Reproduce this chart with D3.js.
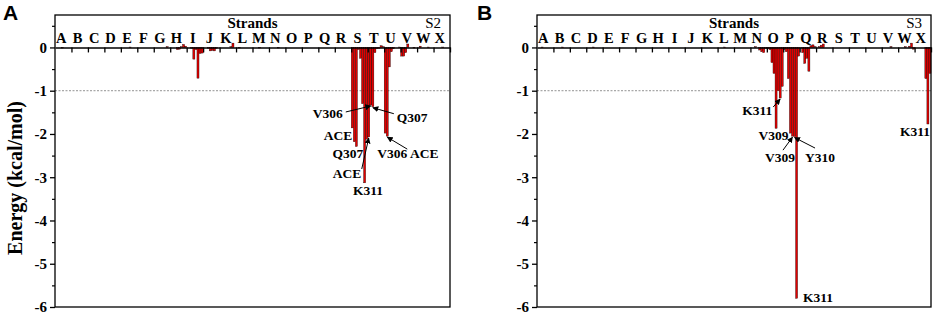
<!DOCTYPE html>
<html>
<head>
<meta charset="utf-8">
<script src="https://cdn.jsdelivr.net/npm/d3@7"></script>
<style>
  body { margin: 0; background: #fff; }
  svg { display: block; }
</style>
</head>
<body>
<script>
// ---- data ----
var strands = "ABCDEFGHIJKLMNOPQRSTUVWX".split("");
var residues = ["ACE", "V306", "Q307", "I308", "V309", "Y310", "K311", "NME"];
var yTicks = [0, -1, -2, -3, -4, -5, -6];

// residue energies, 8 per strand (ACE .. NME), kcal/mol
var energyS2 = [
  0, 0, 0, -0.01, 0, 0, 0, 0,            // A
  0, 0, 0, 0, 0, 0, 0, 0,                // B
  0, 0, 0, 0, 0, 0, 0, 0,                // C
  0, 0, 0, 0, 0, 0, 0, 0,                // D
  0, 0, 0, 0, 0.01, 0, 0, 0,             // E
  0, 0, 0, 0, 0, 0, 0, 0,                // F
  0, 0, 0, 0, 0, 0, 0.02, 0,             // G
  0, 0, 0, -0.05, -0.04, 0.02, 0.07, 0.03, // H
  0, 0, -0.02, -0.27, -0.05, -0.71, -0.14, -0.13, // I
  0, 0, -0.02, -0.08, -0.07, -0.08, -0.02, 0, // J
  0, 0, 0, 0, 0, 0.02, 0.1, 0,           // K
  0, -0.01, 0, 0, 0, 0, 0, 0,            // L
  0, 0, 0, -0.01, 0, 0, 0, 0,            // M
  0, 0, 0, 0, -0.01, 0, 0, 0,            // N
  0, 0, 0, 0, 0, 0, 0, 0,                // O
  0, 0, 0, 0, 0, 0, 0, 0,                // P
  0, 0, 0, 0, 0, 0, 0, 0,                // Q
  0, 0, 0, 0, 0, 0, 0, 0,                // R
  -1.86, -2.18, -2.29, -0.05, -0.25, -1.3, -3.13, -2.12, // S
  -2.07, -1.33, -1.37, -0.12, -0.03, -0.02, 0.04, 0.02,  // T
  -1.98, -2.05, -0.45, -0.1, -0.03, 0, 0, 0.01,          // U
  -0.2, -0.2, -0.12, 0.08, 0, 0, -0.01, 0,               // V
  0, 0.03, 0, 0, 0, 0.01, 0, 0,          // W
  0, 0, 0, 0, 0.01, 0, 0, 0              // X
];

var energyS3 = [
  0, 0, 0.01, 0, 0, 0, 0, 0,             // A
  0, 0, 0, 0, 0.01, 0, 0, 0,             // B
  0, 0, 0, 0, 0, 0, 0, 0,                // C
  0, 0, 0, 0.01, 0, 0, 0, 0,             // D
  0, 0, 0, 0, 0, 0, 0, 0,                // E
  0, 0, 0, 0, 0, 0, 0, 0,                // F
  0, 0, 0, 0, 0, 0, 0, 0,                // G
  0, 0, 0, 0, 0, 0, 0, 0,                // H
  0, 0, 0, 0, 0, 0, 0, 0,                // I
  0, 0, 0, 0, 0, 0, 0, 0,                // J
  0, 0, 0, 0, 0, 0, 0, 0,                // K
  0, 0, 0, 0.01, 0, 0, 0, 0,             // L
  0, 0, 0, 0, 0, 0, 0, 0,                // M
  0, 0, 0.02, 0, -0.06, -0.1, -0.12, -0.02, // N
  -0.02, -0.05, -0.35, -0.6, -1.87, -1.0, -1.17, -0.9,  // O
  -0.05, -0.1, -0.72, -1.98, -2.05, -2.06, -5.8, -0.2,  // P
  0, -0.12, -0.37, -0.25, -0.55, 0.04, 0.06, 0.02,      // Q
  0, 0.02, 0.05, 0.08, 0, 0, 0, 0,       // R
  0, 0, 0, 0, 0, 0, 0, 0,                // S
  0, 0, 0, 0, 0, 0, 0, 0,                // T
  0, 0, 0, 0, 0, 0, 0, 0,                // U
  0, 0, 0, 0, 0.02, 0, 0, 0,             // V
  0, 0, 0, 0.02, 0, 0.03, 0.1, -0.04,    // W
  0, 0, 0, 0, 0, -0.72, -1.77, -0.6      // X
];

// residue labels: target bar, label offset from bar end, optional arrow tail offset
var labelsS2 = [
  {text: "V306", strand: "T", res: "V306", lx: -28, ly: 13, anchor: "end", tx: -25, ty: 7},
  {text: "ACE", strand: "S", res: "ACE", lx: 0, ly: 12, anchor: "end"},
  {text: "Q307", strand: "S", res: "Q307", lx: -8.5, ly: 11.5, anchor: "middle"},
  {text: "ACE", strand: "T", res: "ACE", lx: -36, ly: 41, anchor: "start", tx: -7, ty: 32},
  {text: "K311", strand: "S", res: "K311", lx: 3.5, ly: 12, anchor: "middle"},
  {text: "Q307", strand: "T", res: "Q307", lx: 24, ly: 15, anchor: "start", tx: 21, ty: 7},
  {text: "V306 ACE", strand: "U", res: "V306", lx: -10, ly: 22, anchor: "start", tx: 20, ty: 13}
];
var labelsS3 = [
  {text: "K311", strand: "O", res: "K311", lx: -8, ly: 17, anchor: "end", tx: -7, ty: 9},
  {text: "V309", strand: "O", res: "V309", lx: -2.5, ly: 12, anchor: "middle"},
  {text: "V309", strand: "P", res: "V309", lx: -12.5, ly: 26, anchor: "middle", tx: -9.5, ty: 14},
  {text: "Y310", strand: "P", res: "Y310", lx: 10.5, ly: 25.5, anchor: "start", tx: 20.5, ty: 11.5},
  {text: "K311", strand: "P", res: "K311", lx: 6.5, ly: 4, anchor: "start"},
  {text: "K311", strand: "X", res: "K311", lx: -13, ly: 12, anchor: "middle"}
];

// ---- drawing ----
var svg = d3.select("body").append("svg")
  .attr("width", 934)
  .attr("height", 314);

svg.append("defs").append("marker")
  .attr("id", "arr")
  .attr("viewBox", "0 0 10 10")
  .attr("refX", 9).attr("refY", 5)
  .attr("markerWidth", 6).attr("markerHeight", 6)
  .attr("markerUnits", "userSpaceOnUse")
  .attr("orient", "auto")
  .append("path").attr("d", "M0,0 L10,5 L0,10 z").attr("fill", "#000");

var serif = "'Liberation Serif', 'Times New Roman', serif";

function drawPanel(opt) {
  var top = 15, bottom = 307;
  var y = d3.scaleLinear().domain([-6, 0.75]).range([bottom, top]);
  var xs = d3.scaleLinear().domain([0, strands.length]).range([opt.left, opt.right]);
  var keys = [];
  strands.forEach(function(s) { residues.forEach(function(r) { keys.push(s + "|" + r); }); });
  var xb = d3.scaleBand().domain(keys).range([opt.left, opt.right]).padding(0);

  var g = svg.append("g");

  // panel letter
  svg.append("text")
    .attr("x", opt.letterX).attr("y", 20)
    .style("font-family", "'Liberation Sans', Arial, sans-serif")
    .style("font-weight", "bold").style("font-size", "21px")
    .text(opt.letter);

  // -1 reference line
  g.append("line")
    .attr("x1", opt.left).attr("x2", opt.right)
    .attr("y1", y(-1)).attr("y2", y(-1))
    .attr("stroke", "#777").attr("stroke-width", 0.8)
    .attr("stroke-dasharray", "2,1.5");

  // bars
  g.selectAll("rect.bar")
    .data(opt.data.map(function(v, i) { return {k: keys[i], v: v}; }).filter(function(d) { return d.v !== 0; }))
    .enter().append("rect")
    .attr("class", "bar")
    .attr("x", function(d) { return xb(d.k); })
    .attr("width", xb.bandwidth())
    .attr("y", function(d) { return Math.min(y(d.v), y(0)); })
    .attr("height", function(d) { return Math.max(0.6, Math.abs(y(d.v) - y(0))); })
    .attr("fill", "#e00000")
    .attr("stroke", "#000")
    .attr("stroke-width", 0.35);

  // frame
  g.append("rect")
    .attr("x", opt.left).attr("y", top)
    .attr("width", opt.right - opt.left).attr("height", bottom - top)
    .attr("fill", "none").attr("stroke", "#000").attr("stroke-width", 1.3);

  // zero line with strand ticks
  var xAxis = g.append("g")
    .attr("transform", "translate(0," + y(0) + ")")
    .call(d3.axisBottom(xs).tickValues(d3.range(1, strands.length + 1)).tickSize(5).tickSizeOuter(0).tickFormat(""));
  xAxis.select(".domain").attr("stroke-width", 1.5);
  xAxis.selectAll("line").attr("stroke-width", 1.3);

  // y axis
  var yAxis = g.append("g")
    .attr("transform", "translate(" + opt.left + ",0)")
    .call(d3.axisLeft(y).tickValues(yTicks).tickSize(5).tickPadding(3).tickSizeOuter(0).tickFormat(d3.format("d")));
  yAxis.select(".domain").remove();
  yAxis.selectAll("line").attr("stroke-width", 1.3);
  yAxis.selectAll("text")
    .style("font-family", serif).style("font-weight", "bold").style("font-size", "15px")
    .text(function(d) { return d === 0 ? "0" : "-" + Math.abs(d); });
  var minor = d3.range(-5.5, 0.6, 1);
  g.append("g")
    .attr("transform", "translate(" + opt.left + ",0)")
    .call(d3.axisLeft(y).tickValues(minor).tickSize(3).tickSizeOuter(0).tickFormat(""))
    .call(function(a) { a.select(".domain").remove(); a.selectAll("line").attr("stroke-width", 1.2); });

  // strand letters
  g.selectAll("text.strand")
    .data(strands).enter().append("text")
    .attr("class", "strand")
    .attr("x", function(d, i) { return xs(i + 0.5) - 2; })
    .attr("y", 42.5)
    .attr("text-anchor", "middle")
    .style("font-family", serif).style("font-weight", "bold").style("font-size", "14.5px")
    .text(function(d) { return d; });

  g.append("text")
    .attr("x", (opt.left + opt.right) / 2).attr("y", 27.5)
    .attr("text-anchor", "middle")
    .style("font-family", serif).style("font-weight", "bold").style("font-size", "15px")
    .text("Strands");

  g.append("text")
    .attr("x", opt.right - 9).attr("y", 27.5)
    .attr("text-anchor", "end")
    .style("font-family", serif).style("font-size", "15px")
    .text(opt.tag);

  // residue annotations
  opt.labels.forEach(function(l) {
    var bx = xb(l.strand + "|" + l.res) + xb.bandwidth() / 2;
    var i = keys.indexOf(l.strand + "|" + l.res);
    var by = y(opt.data[i]);
    if (l.tx !== undefined) {
      g.append("line")
        .attr("x1", bx + l.tx).attr("y1", by + l.ty)
        .attr("x2", bx).attr("y2", by + 1)
        .attr("stroke", "#000").attr("stroke-width", 1)
        .attr("marker-end", "url(#arr)");
    }
    g.append("text")
      .attr("x", bx + l.lx).attr("y", by + l.ly)
      .attr("text-anchor", l.anchor)
      .style("font-family", serif).style("font-weight", "bold").style("font-size", "13.5px")
      .text(l.text);
  });

  if (opt.ylabel) {
    svg.append("text")
      .attr("transform", "translate(22,178) rotate(-90)")
      .attr("text-anchor", "middle")
      .style("font-family", serif).style("font-weight", "bold").style("font-size", "20px")
      .text("Energy (kcal/mol)");
  }
}

drawPanel({left: 55, right: 450, data: energyS2, labels: labelsS2, tag: "S2", letter: "A", letterX: 3, ylabel: true});
drawPanel({left: 537, right: 931, data: energyS3, labels: labelsS3, tag: "S3", letter: "B", letterX: 477, ylabel: false});
</script>
</body>
</html>
